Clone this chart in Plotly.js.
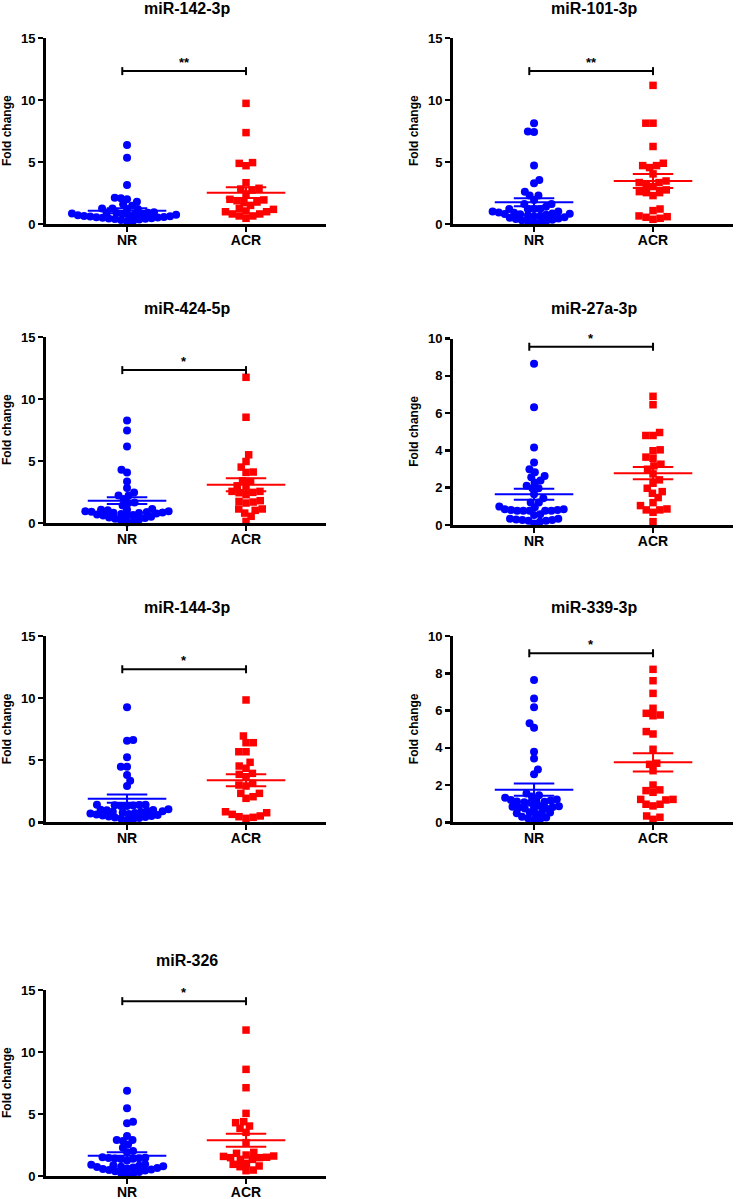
<!DOCTYPE html>
<html>
<head>
<meta charset="utf-8">
<script src="https://cdn.plot.ly/plotly-3.0.1.min.js"></script>
<style>
  body { margin: 0; background: #fff; }
  #plot { width: 736px; height: 1199px; }
</style>
</head>
<body>
<div id="plot"></div>
<script>
// fold change scatter (NR vs ACR) for 7 miRNAs

const groups = ["NR", "ACR"];
const titles = ["miR-142-3p", "miR-101-3p", "miR-424-5p", "miR-27a-3p", "miR-144-3p", "miR-339-3p", "miR-326"];
const yMax = [15, 15, 15, 10, 15, 10, 15];
const stars = ["**", "**", "*", "*", "*", "*", "*"];
const bracketY = [12.33, 12.33, 12.33, 9.56, 12.32, 9.07, 14.1];

// values
const nr142 = [6.37, 5.35, 3.15, 2.12, 1.99, 2.07, 1.80, 1.59, 1.48, 1.26, 1.21, 1.25, 1.20,
  0.95, 0.92, 0.9, 0.88, 0.85, 0.82, 0.8, 0.77, 0.74, 0.7, 0.68, 0.65, 0.62, 0.6, 0.57, 0.55,
  0.52, 0.5, 0.47, 0.45, 0.42, 0.4, 0.36, 0.32, 0.27, 0.2];
const acr142 = [9.73, 7.37, 4.89, 4.70, 4.95, 3.33, 2.88, 2.74, 2.82, 2.42, 1.94, 1.72, 1.77,
  1.88, 1.99, 1.26, 0.99, 0.81, 0.65, 0.46, 0.65, 0.81, 0.99, 1.18, 1.50, 1.05];

const nr101 = [8.13, 7.46, 7.41, 4.71, 3.55, 3.29, 2.61, 2.29, 2.29, 1.94, 1.62, 1.62, 1.40,
  1.21, 1.21, 1.21, 1.21, 1.0, 1.0, 0.92, 0.9, 0.85, 0.82, 0.8, 0.78, 0.75, 0.7, 0.65, 0.6,
  0.55, 0.5, 0.45, 0.4, 0.35, 0.3, 0.25, 0.2, 0.15, 0.1];
const acr101 = [11.18, 8.13, 8.13, 6.25, 4.90, 4.71, 4.55, 4.71, 4.04, 3.47, 3.34, 3.34, 3.02,
  3.20, 2.61, 2.53, 2.29, 2.53, 2.75, 1.21, 1.08, 0.65, 0.54, 0.38, 0.46, 0.59];

const nr424 = [8.26, 7.45, 6.17, 4.29, 4.07, 3.35, 2.82, 2.46, 2.22, 2.22, 1.93, 1.61, 1.66,
  1.42, 1.13, 1.07, 1.02, 1.07, 0.94, 0.94, 0.9, 0.88, 0.85, 0.82, 0.8, 0.76, 0.72, 0.68,
  0.64, 0.6, 0.55, 0.5, 0.45, 0.4, 0.34, 0.28, 0.2, 0.12, 0.05];
const acr424 = [11.75, 8.53, 5.50, 4.96, 4.51, 4.11, 4.08, 3.41, 3.35, 3.00, 2.90, 2.55, 2.55,
  2.28, 2.44, 2.47, 1.80, 1.69, 1.61, 1.74, 1.13, 1.13, 1.02, 0.80, 0.54, 0.13];

const nr27a = [8.64, 6.31, 4.16, 3.35, 2.83, 2.99, 2.56, 2.63, 2.28, 2.38, 2.10, 1.97, 1.97,
  1.43, 1.65, 1.20, 1.20, 0.99, 0.95, 0.84, 0.81, 0.77, 0.77, 0.77, 0.77, 0.77, 0.81, 0.84,
  0.54, 0.57, 0.34, 0.27, 0.23, 0.30, 0.18, 0.23, 0.27, 0.34, 0.08];
const acr27a = [6.90, 6.45, 4.96, 4.80, 4.80, 3.98, 4.03, 3.64, 3.58, 3.26, 3.17, 2.99, 2.74,
  2.42, 2.24, 1.97, 1.79, 1.70, 1.47, 1.20, 1.04, 0.86, 0.81, 0.81, 0.68, 0.18];

const nr144 = [9.26, 6.57, 6.63, 5.23, 4.48, 4.48, 3.81, 3.35, 2.92, 1.42, 1.38, 1.42, 1.32,
  1.32, 1.36, 1.40, 1.05, 1.0, 1.02, 0.98, 0.92, 0.88, 0.85, 0.82, 0.78, 0.74, 0.7, 0.66,
  0.62, 0.58, 0.54, 0.5, 0.46, 0.42, 0.38, 0.34, 0.3, 0.24, 0.18];
const acr144 = [9.85, 6.95, 6.41, 6.41, 5.68, 5.68, 4.83, 4.53, 4.35, 3.94, 3.86, 3.67, 3.14,
  2.92, 3.00, 2.33, 2.33, 2.06, 1.93, 0.85, 0.64, 0.45, 0.32, 0.40, 0.51, 0.77];

const nr339 = [7.64, 6.65, 6.17, 5.31, 5.08, 3.79, 3.43, 2.84, 2.58, 1.55, 1.45, 1.38, 1.32,
  1.22, 1.2, 1.17, 1.15, 1.12, 1.1, 1.08, 1.05, 0.88, 0.86, 0.84, 0.82, 0.8, 0.78, 0.76, 0.74,
  0.54, 0.52, 0.5, 0.48, 0.46, 0.3, 0.26, 0.22, 0.18, 0.14];
const acr339 = [8.21, 7.60, 6.92, 6.12, 5.85, 5.72, 5.76, 4.87, 4.74, 3.92, 3.11, 3.17, 2.77,
  2.00, 1.74, 1.61, 1.70, 1.23, 1.20, 1.23, 0.97, 0.88, 0.97, 0.34, 0.16, 0.27];

const nr326 = [6.88, 5.46, 4.38, 4.25, 3.23, 2.90, 2.90, 2.82, 2.55, 2.28, 1.91, 2.02, 1.42,
  1.45, 1.48, 1.44, 1.37, 1.40, 1.51, 1.25, 0.94, 0.9, 0.86, 0.82, 0.78, 0.75, 0.72, 0.68,
  0.64, 0.6, 0.56, 0.52, 0.48, 0.44, 0.38, 0.32, 0.25, 0.18, 0.1];
const acr326 = [11.77, 8.60, 7.12, 5.05, 4.30, 4.38, 4.03, 3.84, 3.52, 2.69, 1.91, 1.83, 1.69,
  1.58, 1.48, 1.48, 1.34, 1.51, 1.61, 1.34, 0.94, 1.02, 0.75, 0.81, 0.43, 0.48];

// mean and SEM lines as drawn in the figure
const meanNR = [1.07, 1.75, 1.80, 1.65, 1.90, 1.75, 1.64];
const semNR = [0.20, 0.32, 0.27, 0.30, 0.33, 0.33, 0.27];
const meanACR = [2.53, 3.47, 3.08, 2.78, 3.39, 3.22, 2.88];
const semACR = [0.43, 0.57, 0.52, 0.33, 0.48, 0.49, 0.53];

const nrAll = [nr142, nr101, nr424, nr27a, nr144, nr339, nr326];
const acrAll = [acr142, acr101, acr424, acr27a, acr144, acr339, acr326];

// ---- layout geometry (pixels of the 736x1199 page) ----
const W = 736, H = 1199;
const colX = [[46, 326], [453, 733]];
const rowY = [[38, 224], [38, 224], [337, 523], [338.5, 525], [636, 822.3], [636, 822.3], [990, 1176]];
const titleY = [9, 9, 308, 308, 607, 607, 960];
const xRange = [-0.681, 1.672];
const pxPerX = 280 / (xRange[1] - xRange[0]);
const font = "Liberation Sans, Arial, Helvetica, sans-serif";
const blue = "#0000ff", red = "#ff0000";

// beeswarm: px offsets so markers sit side by side, alternating sides
function swarm(values, pxPerY, D) {
  const order = values.map((v, i) => i).sort((a, b) => values[a] - values[b]);
  const placed = [];
  const offs = new Array(values.length);
  let side = 1;
  order.forEach(i => {
    const y = values[i] * pxPerY;
    const near = placed.filter(p => Math.abs(p.y - y) < D);
    const cands = [0];
    near.forEach(p => {
      const w = Math.sqrt(D * D - (p.y - y) ** 2);
      cands.push(p.x + w, p.x - w);
    });
    const ok = c => near.every(p => Math.abs(p.x - c) >= Math.sqrt(D * D - (p.y - y) ** 2) - 1e-6);
    const good = cands.filter(ok).sort((a, b) => Math.abs(a) - Math.abs(b));
    let best = good[0];
    // prefer the side opposite to the last one when both are about as close
    const alt = good.find(c => Math.sign(c) === side && Math.abs(c) - Math.abs(best) < 2);
    if (best !== 0 && alt !== undefined) best = alt;
    if (best !== 0) side = -Math.sign(best);
    placed.push({ x: best, y: y });
    offs[i] = best;
  });
  return offs;
}

let traces = [];
let layout = {
  width: W, height: H,
  margin: { l: 0, r: 0, t: 0, b: 0 },
  paper_bgcolor: "white", plot_bgcolor: "white",
  showlegend: false,
  font: { family: font, color: "black" },
  annotations: []
};

for (let k = 0; k < 7; k++) {
  const n = k + 1;
  const xa = "x" + (n === 1 ? "" : n), ya = "y" + (n === 1 ? "" : n);
  const col = k % 2;
  const [px0, px1] = colX[col];
  const [py0, py1] = rowY[k];
  const pxPerY = (py1 - py0) / yMax[k];

  const ticks = [];
  for (let t = 0; t <= yMax[k]; t += (yMax[k] === 15 ? 5 : 2)) ticks.push(t);

  layout["xaxis" + (n === 1 ? "" : n)] = {
    domain: [px0 / W, px1 / W], anchor: ya, range: xRange,
    tickvals: [0, 1], ticktext: groups, ticks: "outside", ticklen: 5, tickwidth: 2.5,
    tickcolor: "black", showline: true, linewidth: 3, linecolor: "black",
    showgrid: false, zeroline: false, fixedrange: true, ticklabelstandoff: -4,
    tickfont: { family: font, size: 14, weight: "bold", color: "black" }
  };
  layout["yaxis" + (n === 1 ? "" : n)] = {
    domain: [1 - py1 / H, 1 - py0 / H], anchor: xa, range: [0, yMax[k]],
    tickvals: ticks, ticks: "outside", ticklen: 5, tickwidth: 2.5, tickcolor: "black",
    showline: true, linewidth: 3, linecolor: "black",
    showgrid: false, zeroline: false, fixedrange: true,
    tickfont: { family: font, size: 13, weight: "bold", color: "black" }
  };

  const sets = [
    { vals: nrAll[k], g: 0, color: blue, symbol: "circle", size: 8, D: 6.2, mean: meanNR[k], sem: semNR[k] },
    { vals: acrAll[k], g: 1, color: red, symbol: "square", size: 7.5, D: 7.2, mean: meanACR[k], sem: semACR[k] }
  ];
  sets.forEach(s => {
    const offs = swarm(s.vals, pxPerY, s.D);
    traces.push({
      type: "scatter", mode: "markers", xaxis: xa, yaxis: ya, cliponaxis: false,
      x: offs.map(o => s.g + o / pxPerX), y: s.vals,
      marker: { color: s.color, symbol: s.symbol, size: s.size, line: { width: 0 } },
      hoverinfo: "y"
    });
    // mean line + SEM whiskers
    const m = s.mean, e = s.sem, g = s.g;
    traces.push({
      type: "scatter", mode: "lines", xaxis: xa, yaxis: ya, hoverinfo: "skip",
      x: [g - 0.33, g + 0.33, null, g - 0.17, g + 0.17, null, g - 0.17, g + 0.17, null, g, g],
      y: [m, m, null, m + e, m + e, null, m - e, m - e, null, m - e, m + e],
      line: { color: s.color, width: 2 }
    });
  });

  // significance bracket
  const by = bracketY[k], cap = 4 / pxPerY, a = -0.04, b = 1;
  traces.push({
    type: "scatter", mode: "lines", xaxis: xa, yaxis: ya, hoverinfo: "skip", cliponaxis: false,
    x: [a, a, null, a, b, null, b, b],
    y: [by - cap, by + cap, null, by, by, null, by - cap, by + cap],
    line: { color: "black", width: 2 }
  });
  layout.annotations.push({
    xref: xa, yref: ya, x: (a + b) / 2, y: by, yanchor: "bottom", xanchor: "center",
    text: stars[k], showarrow: false, yshift: -1,
    font: { family: font, size: 13, weight: "bold", color: "black" }
  });

  // panel title
  layout.annotations.push({
    xref: "paper", yref: "paper", x: (px0 + 0.681 * pxPerX + 0.5 * pxPerX) / W, y: 1 - titleY[k] / H,
    xanchor: "center", yanchor: "middle", text: "<b>" + titles[k] + "</b>", showarrow: false,
    font: { family: font, size: 16, color: "black" }
  });
  // y axis title
  layout.annotations.push({
    xref: "paper", yref: "paper", x: (px0 - 39) / W, y: 1 - (py0 + py1) / 2 / H,
    xanchor: "center", yanchor: "middle", textangle: -90,
    text: "<b>Fold change</b>", showarrow: false,
    font: { family: font, size: 12, color: "black" }
  });
}

Plotly.newPlot("plot", traces, layout, { staticPlot: true });
</script>
</body>
</html>
